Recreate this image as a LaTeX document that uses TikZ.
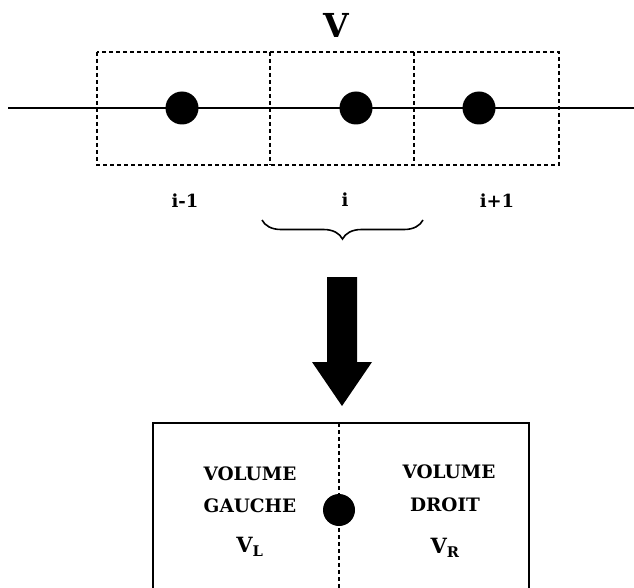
\documentclass[tikz,border=0pt]{standalone}
\usepackage{fontspec}
\setmainfont{DejaVu Serif}
\usetikzlibrary{decorations.pathreplacing}
\begin{document}
\begin{tikzpicture}[x=1pt,y=-1pt,
  dot/.style={circle,fill=black,inner sep=0pt,minimum size=33pt},
  smalldot/.style={circle,fill=black,inner sep=0pt,minimum size=32pt},
  dsh/.style={line width=1.2pt,dash pattern=on 4pt off 3pt},
  lbl/.style={font=\bfseries\fontsize{18}{20}\selectfont},
  vol/.style={font=\bfseries\fontsize{18.5}{22}\selectfont},
  vv/.style={font=\bfseries\fontsize{21}{24}\selectfont}]
\useasboundingbox (0,0) rectangle (634,588);
% top axis
\coordinate (la) at (8,108);
\coordinate (ra) at (634,108);
\draw[line width=1.8pt] (la) -- (ra);
% dashed cells
\draw[dsh] (97,52) rectangle (559,165);
\draw[dsh] (270,52) -- (270,165);
\draw[dsh] (414,52) -- (414,165);
\node[dot] (p1) at (182,108) {};
\node[dot] (p2) at (356,108) {};
\node[dot] (p3) at (479,108) {};
\node[font=\bfseries\fontsize{33}{36}\selectfont] (V) at (336,25) {V};
\node[lbl] (l1) at (185,201) {i-1};
\node[lbl] (l2) at (345,200) {i};
\node[lbl] (l3) at (497,201) {i+1};
% brace
\draw[line width=1.6pt,decorate,decoration={brace,amplitude=19pt,mirror}] (262,220) -- (423,220);
% big arrow
\fill (327,277) -- (357,277) -- (357,362) -- (372,362) -- (342,406) -- (312,362) -- (327,362) -- cycle;
% bottom box
\draw[line width=1.3pt] (153,588) -- (153,423) -- (529,423) -- (529,588);
\draw[dsh] (339,423) -- (339,588);
\node[smalldot] (c) at (339,510) {};
\node[vol] (vg1) at (250,474) {VOLUME};
\node[vol] (vg2) at (250,506) {GAUCHE};
\node[vv] (vl) at (250,547) {V$_{\mathbf{L}}$};
\node[vol] (vd1) at (449,472) {VOLUME};
\node[vol] (vd2) at (445,505) {DROIT};
\node[vv] (vr) at (445,548) {V$_{\mathbf{R}}$};
\end{tikzpicture}
\end{document}
